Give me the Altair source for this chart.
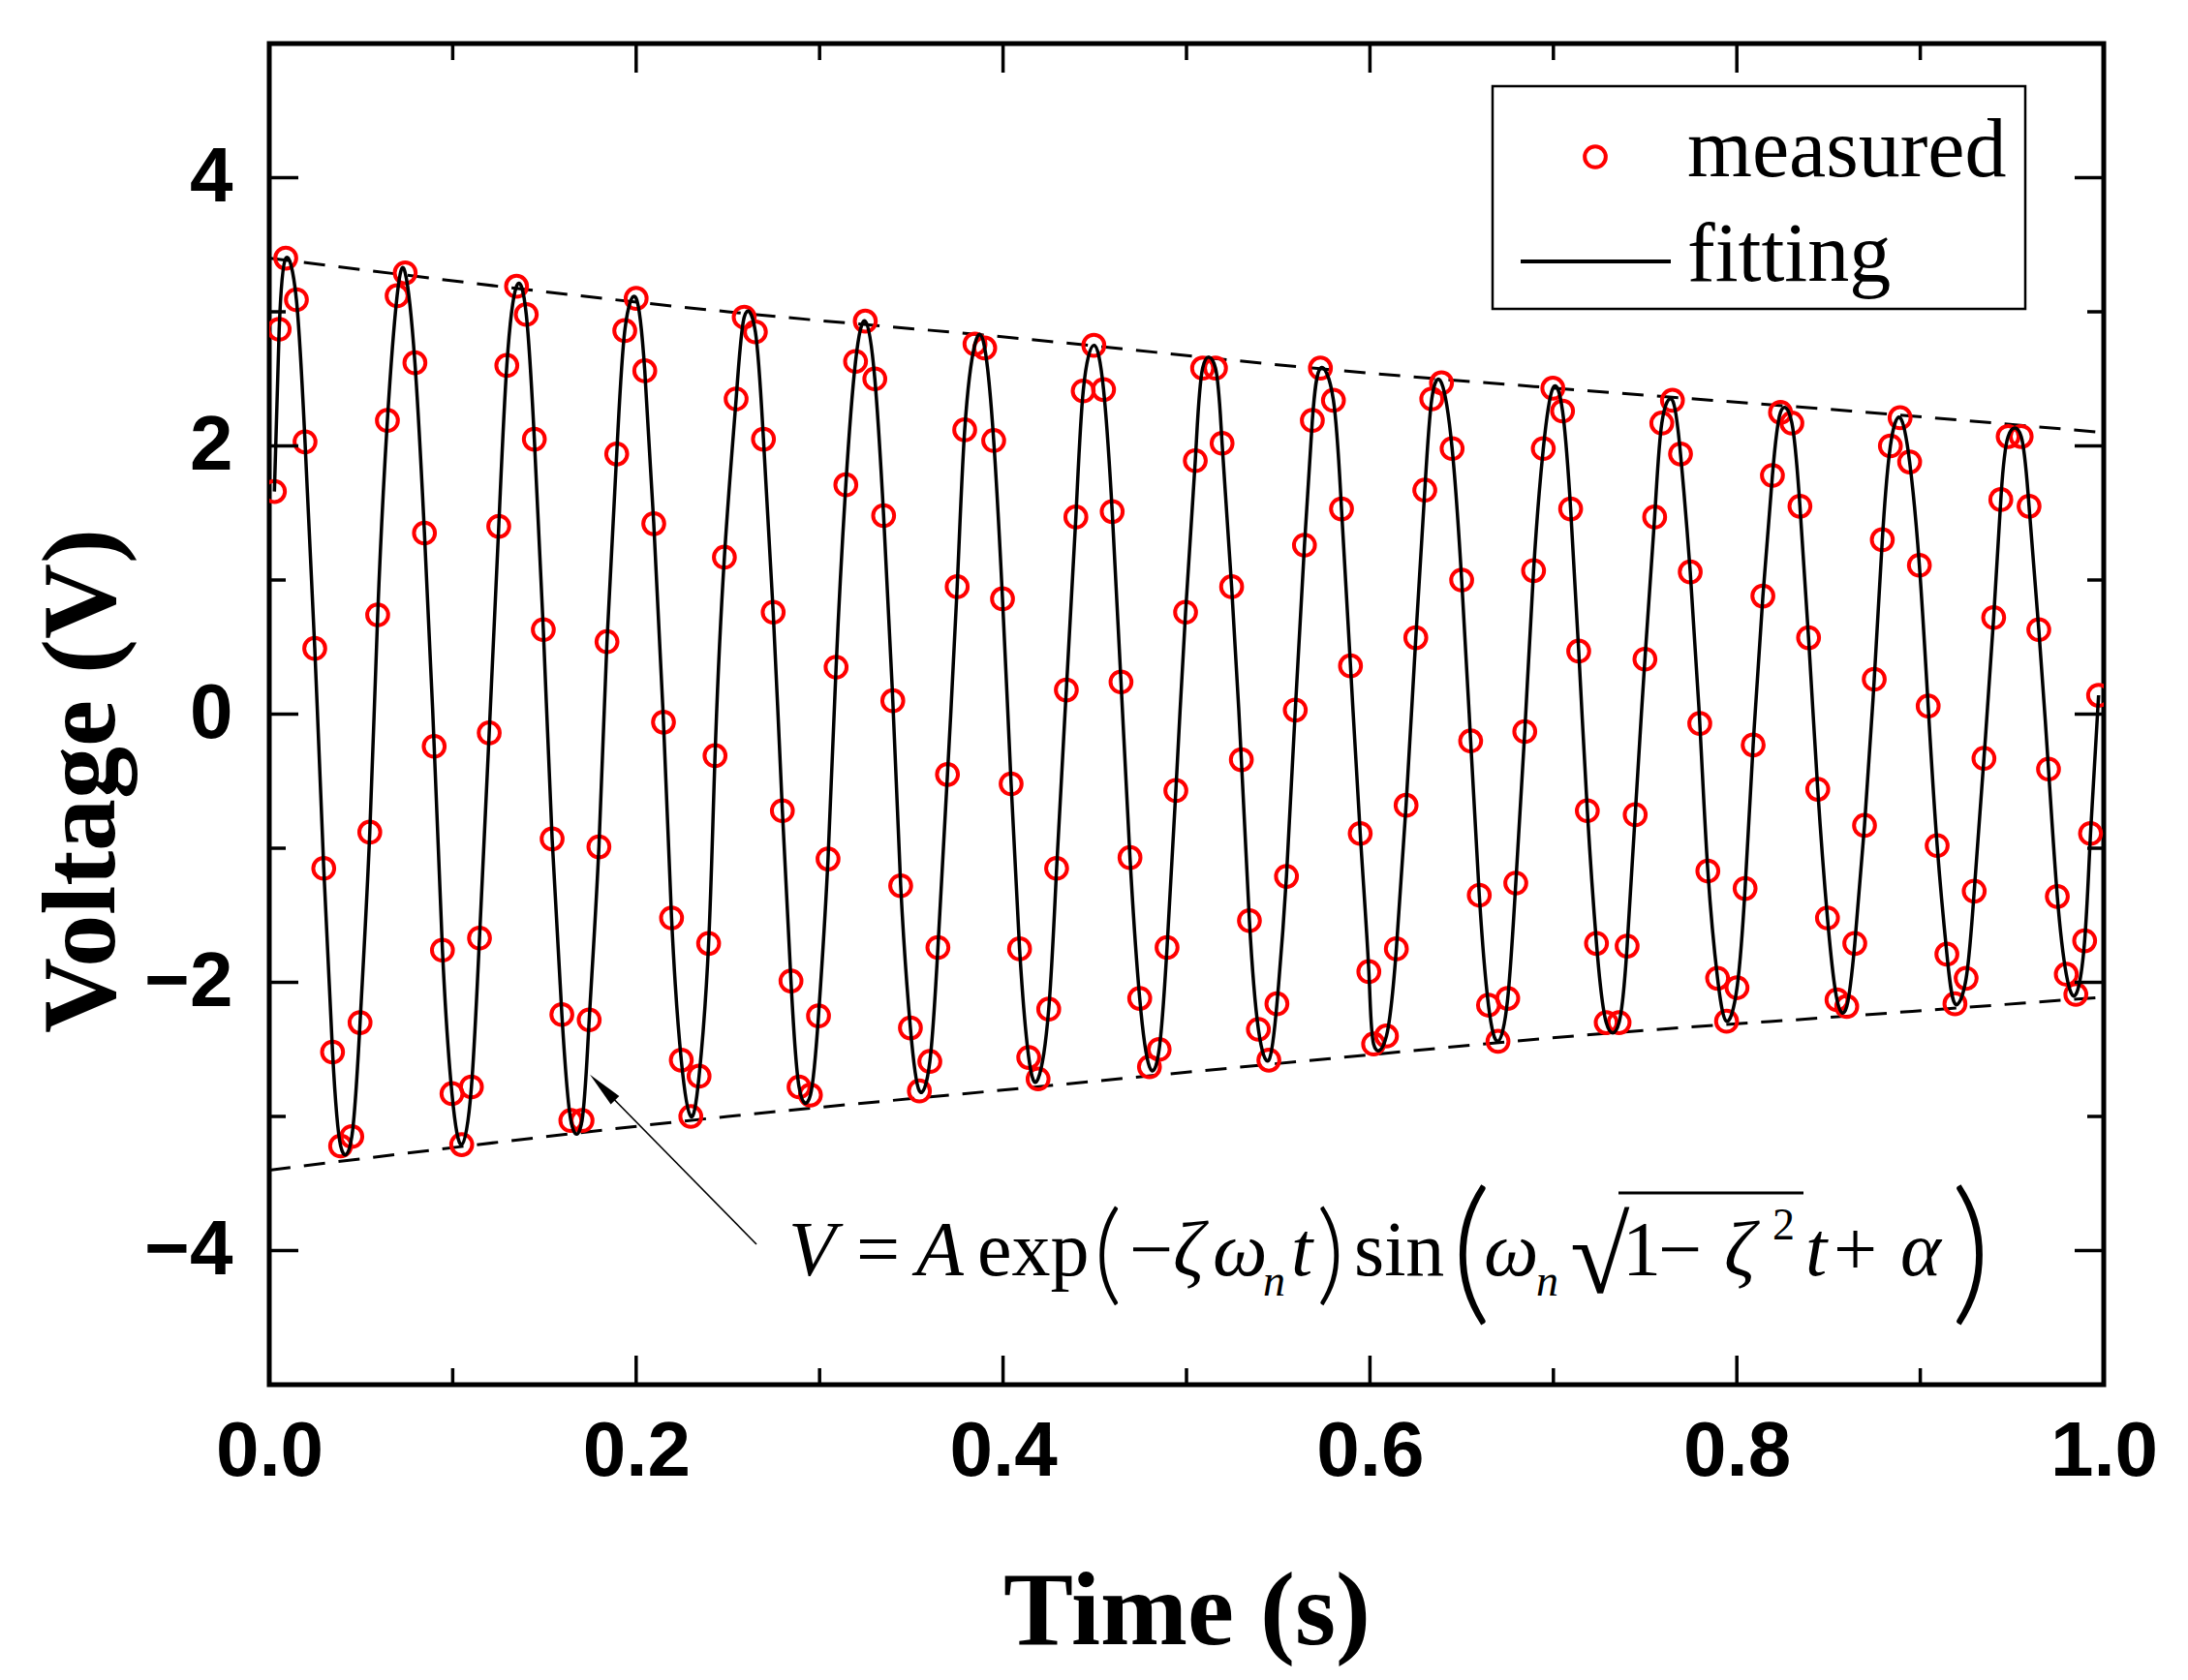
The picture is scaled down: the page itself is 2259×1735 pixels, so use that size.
import altair as alt
import pandas as pd

# ---------------- data ----------------
t_meas = [
    0.0028, 0.0054, 0.0090, 0.0148, 0.0195, 0.0248, 0.0297, 0.0345, 0.0389, 0.0450,
    0.0495, 0.0548, 0.0591, 0.0644, 0.0697, 0.0741, 0.0794, 0.0846, 0.0899, 0.0944,
    0.0996, 0.1049, 0.1102, 0.1146, 0.1199, 0.1251, 0.1295,
    0.1348, 0.1401, 0.1445, 0.1494, 0.1542, 0.1595, 0.1644, 0.1705, 0.1744, 0.1797,
    0.1841, 0.1894, 0.1938, 0.2000, 0.2047, 0.2096, 0.2149, 0.2193, 0.2246, 0.2298,
    0.2343, 0.2395, 0.2430, 0.2481,
    0.2545, 0.2589, 0.2650, 0.2694, 0.2747, 0.2797, 0.2844, 0.2888, 0.2950, 0.2994,
    0.3046, 0.3090, 0.3143, 0.3196, 0.3249, 0.3301, 0.3349, 0.3399, 0.3442, 0.3495,
    0.3544, 0.3601, 0.3645, 0.3697, 0.3750, 0.3791, 0.3847, 0.3900, 0.3949, 0.3997,
    0.4044, 0.4090, 0.4140,
    0.4191, 0.4249, 0.4292, 0.4345, 0.4397, 0.4437, 0.4495, 0.4548, 0.4595, 0.4643,
    0.4692, 0.4745, 0.4798, 0.4851, 0.4894, 0.4942, 0.4995, 0.5048, 0.5088, 0.5158,
    0.5194, 0.5246, 0.5299, 0.5343, 0.5392, 0.5449, 0.5493, 0.5545, 0.5593, 0.5643,
    0.5686, 0.5730,
    0.5801, 0.5845, 0.5894, 0.5947, 0.5994, 0.6020, 0.6090, 0.6144, 0.6197, 0.6250,
    0.6299, 0.6337, 0.6390, 0.6448, 0.6500, 0.6549, 0.6596, 0.6646, 0.6698, 0.6751,
    0.6795, 0.6844, 0.6892, 0.6945, 0.6997, 0.7050, 0.7094, 0.7138, 0.7185,
    0.7235, 0.7288, 0.7358, 0.7402, 0.7446, 0.7499, 0.7552, 0.7591, 0.7649, 0.7693,
    0.7746, 0.7798, 0.7842, 0.7895, 0.7944, 0.8001, 0.8045, 0.8089, 0.8142, 0.8194,
    0.8238, 0.8300, 0.8344, 0.8391, 0.8441, 0.8494, 0.8546,
    0.8599, 0.8643, 0.8696, 0.8749, 0.8793, 0.8837, 0.8890, 0.8942, 0.8995, 0.9043,
    0.9092, 0.9145, 0.9189, 0.9250, 0.9294, 0.9347, 0.9400, 0.9439, 0.9479, 0.9550,
    0.9593, 0.9646, 0.9699, 0.9747, 0.9796, 0.9848, 0.9896, 0.9928, 0.9972,
]
v_meas = [
    1.66, 2.87, 3.40, 3.09, 2.03, 0.49, -1.15, -2.52, -3.22, -3.15,
    -2.30, -0.88, 0.74, 2.19, 3.12, 3.29, 2.62, 1.35, -0.24, -1.76,
    -2.83, -3.21, -2.78, -1.67, -0.14, 1.40, 2.60,
    3.19, 2.98, 2.05, 0.63, -0.93, -2.24, -3.03, -3.03, -2.28, -0.99,
    0.54, 1.94, 2.86, 3.10, 2.56, 1.42, -0.06, -1.52, -2.58, -3.00,
    -2.70, -1.71, -0.31, 1.17,
    2.35, 2.96, 2.85, 2.05, 0.76, -0.72, -1.99, -2.78, -2.84, -2.25,
    -1.08, 0.35, 1.71, 2.63, 2.93, 2.50, 1.48, 0.10, -1.28, -2.34,
    -2.81, -2.59, -1.74, -0.45, 0.95, 2.12, 2.76, 2.73, 2.04, 0.86,
    -0.52, -1.75, -2.56,
    -2.72, -2.20, -1.15, 0.18, 1.47, 2.41, 2.75, 2.42, 1.51, 0.24,
    -1.07, -2.12, -2.63, -2.50, -1.74, -0.57, 0.76, 1.89, 2.58, 2.58,
    2.02, 0.95, -0.34, -1.54, -2.35, -2.58, -2.16, -1.21, 0.03, 1.26,
    2.19, 2.58,
    2.34, 1.53, 0.36, -0.89, -1.92, -2.46, -2.40, -1.75, -0.68, 0.57,
    1.67, 2.35, 2.47, 1.98, 1.00, -0.20, -1.35, -2.17, -2.44, -2.12,
    -1.26, -0.13, 1.07, 1.98, 2.43, 2.26, 1.53, 0.47, -0.72,
    -1.71, -2.30, -2.30, -1.73, -0.75, 0.41, 1.47, 2.17, 2.34, 1.94,
    1.06, -0.07, -1.17, -1.97, -2.29, -2.04, -1.30, -0.23, 0.88, 1.78,
    2.25, 2.17, 1.55, 0.57, -0.56, -1.52, -2.13,
    -2.18, -1.71, -0.83, 0.26, 1.30, 2.00, 2.21, 1.88, 1.11, 0.06,
    -0.98, -1.79, -2.16, -1.97, -1.32, -0.33, 0.72, 1.60, 2.07, 2.07,
    1.55, 0.63, -0.41, -1.36, -1.94, -2.09, -1.69, -0.89, 0.14,
]

env_t = [0.0, 0.25, 0.41, 0.577, 0.72, 0.862, 1.0]
env_upper = [3.40, 3.00, 2.80, 2.57, 2.41, 2.26, 2.10]
env_lower = [-3.40, -3.00, -2.79, -2.57, -2.39, -2.25, -2.11]

x_major = [0.0, 0.2, 0.4, 0.6, 0.8, 1.0]
x_minor = [0.1, 0.3, 0.5, 0.7, 0.9]
y_major = [-4, -2, 0, 2, 4]
y_minor = [-3, -1, 1, 3]

legend_labels = ["measured", "fitting"]
x_title = "Time (s)"
y_title = "Voltage (V)"

# ---------------- layout ----------------
W, H = 1894, 1385
RED = "#ff0000"
SERIF = "Liberation Serif"
SANS = "Liberation Sans"

xs = alt.Scale(domain=[0, 1], nice=False, zero=False)
ys = alt.Scale(domain=[-5, 5], nice=False, zero=False)

meas_df = pd.DataFrame({"t": t_meas, "v": v_meas})
env_df = pd.concat([
    pd.DataFrame({"t": env_t, "v": env_upper, "side": "upper"}),
    pd.DataFrame({"t": env_t, "v": env_lower, "side": "lower"}),
])
dummy = pd.DataFrame({"k": [0]})

xaxis = alt.Axis(
    values=x_major, format=".1f", ticks=False, domain=False, grid=False,
    labelFont=SANS, labelFontWeight="bold", labelFontSize=80, labelColor="black",
    labelPadding=30, labelFlush=False,
    title=x_title, titleFont=SERIF, titleFontWeight="bold", titleFontSize=108,
    titleColor="black", titleBaseline="alphabetic", titleY=267,
)
yaxis = alt.Axis(
    values=y_major, format="d", ticks=False, domain=False, grid=False,
    labelFont=SANS, labelFontWeight="bold", labelFontSize=80, labelColor="black",
    labelPadding=38,
    title=y_title, titleFont=SERIF, titleFontWeight="bold", titleFontSize=108,
    titleColor="black", titleAngle=270, titleBaseline="alphabetic",
    titleAlign="center", titleX=-161, titleY=761,
)


def X(field):
    return alt.X(field, scale=xs, axis=xaxis)


def Y(field):
    return alt.Y(field, scale=ys, axis=yaxis)


envelope = alt.Chart(env_df).mark_line(
    color="black", strokeWidth=3, strokeDash=[22, 14], interpolate="monotone", clip=True
).encode(x=X("t:Q"), y=Y("v:Q"), detail="side:N")

points = alt.Chart(meas_df).mark_point(
    shape="circle", filled=False, color=RED, strokeWidth=4, size=470, opacity=1, clip=True
).encode(x=X("t:Q"), y=Y("v:Q"))

fit = alt.Chart(meas_df).mark_line(
    color="black", strokeWidth=3.5, interpolate="natural", clip=True
).encode(x=X("t:Q"), y=Y("v:Q"))


def xticks(values, length):
    df = pd.DataFrame({"t": values})
    base = alt.Chart(df).mark_rule(color="black", strokeWidth=3.5)
    bottom = base.encode(x=X("t:Q"), y=alt.value(H), y2=alt.value(H - length))
    top = base.encode(x=X("t:Q"), y=alt.value(0), y2=alt.value(length))
    return [bottom, top]


def yticks(values, length):
    df = pd.DataFrame({"v": values})
    base = alt.Chart(df).mark_rule(color="black", strokeWidth=3.5)
    left = base.encode(y=Y("v:Q"), x=alt.value(0), x2=alt.value(length))
    right = base.encode(y=Y("v:Q"), x=alt.value(W), x2=alt.value(W - length))
    return [left, right]


ticks = xticks(x_major, 30) + xticks(x_minor, 17) + yticks(y_major, 30) + yticks(y_minor, 17)


def txt(s, x, y, size, style="normal", weight="normal", font=SERIF):
    return alt.Chart(dummy).mark_text(
        text=s, font=font, fontSize=size, fontStyle=style, fontWeight=weight,
        align="left", baseline="alphabetic", color="black"
    ).encode(x=alt.value(x), y=alt.value(y))


# legend
leg_box = alt.Chart(dummy).mark_rect(fill="white", stroke="black", strokeWidth=2.5).encode(
    x=alt.value(1263), x2=alt.value(1813), y=alt.value(44), y2=alt.value(274)
)
leg_pt = alt.Chart(dummy).mark_point(
    shape="circle", filled=False, color=RED, strokeWidth=4, size=470, opacity=1
).encode(x=alt.value(1369), y=alt.value(117))
leg_line = alt.Chart(dummy).mark_rule(color="black", strokeWidth=4).encode(
    x=alt.value(1292), x2=alt.value(1447), y=alt.value(225)
)
leg_txt = [txt(legend_labels[0], 1464, 137, 86), txt(legend_labels[1], 1464, 245, 86)]

# annotation formula  V = A exp(-ζ ω_n t) sin(ω_n √(1-ζ²) t + α)
F = 80
SUB = 46
PF = "Lato"
formula = [
    txt("V", 536, 1272, F, "italic"),
    txt("=", 606, 1272, F),
    txt("A", 668, 1272, F, "italic"),
    txt("exp", 731, 1272, F),
    txt("(", 851, 1288, 114, weight=300, font=PF),
    txt("\u2212", 888, 1272, F),
    txt("\u03b6", 933, 1272, F, "italic"),
    txt("\u03c9", 974, 1272, F, "italic"),
    txt("n", 1026, 1293, SUB, "italic"),
    txt("t", 1055, 1272, F, "italic"),
    txt(")", 1081, 1288, 114, weight=300, font=PF),
    txt("sin", 1120, 1272, F),
    txt("(", 1220, 1302, 162, weight=300, font=PF),
    txt("\u03c9", 1254, 1272, F, "italic"),
    txt("n", 1308, 1293, SUB, "italic"),
    txt("\u221a", 1343, 1290, 112),
    txt("1", 1397, 1272, F),
    txt("\u2212", 1434, 1272, F),
    txt("\u03b6", 1502, 1272, F, "italic"),
    txt("2", 1552, 1235, SUB),
    txt("t", 1586, 1272, F, "italic"),
    txt("+", 1615, 1272, F),
    txt("\u03b1", 1684, 1272, F, "italic"),
    txt(")", 1736, 1302, 162, weight=300, font=PF),
]
overline = alt.Chart(dummy).mark_rule(color="black", strokeWidth=3).encode(
    x=alt.value(1393), x2=alt.value(1584), y=alt.value(1187)
)
arrow_line = alt.Chart(dummy).mark_rule(color="black", strokeWidth=1.6).encode(
    x=alt.value(503), y=alt.value(1240), x2=alt.value(336), y2=alt.value(1070)
)
arrow_head = alt.Chart(dummy).mark_point(
    shape="M0,-1L0.33,1L-0.33,1Z", filled=True, color="black", size=1369,
    angle=315.5, opacity=1, strokeWidth=0
).encode(x=alt.value(344), y=alt.value(1078))

chart = alt.layer(
    envelope, points, fit, *ticks, leg_box, leg_pt, leg_line, *leg_txt,
    *formula, overline, arrow_line, arrow_head
).properties(
    width=W, height=H,
    padding={"left": 270, "top": 37, "right": 79, "bottom": 297},
    autosize=alt.AutoSizeParams(type="none"),
    background="white",
).configure_view(stroke="black", strokeWidth=5)

chart.save("out.html", embed_options={"renderer": "svg", "actions": False})
